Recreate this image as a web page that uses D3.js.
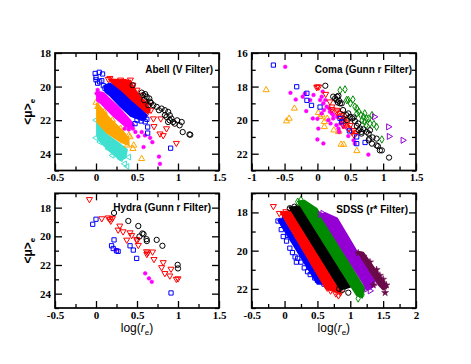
<!DOCTYPE html>
<html>
<head>
<meta charset="utf-8">
<script src="https://cdn.jsdelivr.net/npm/d3@7"></script>
<style>
  body { margin: 0; background: #fff; }
  svg { display: block; }
</style>
</head>
<body>
<div id="chart"></div>
<script>
// ---- Abell (V Filter) ----
const abellBlack = [[0.447,19.92],[0.557,20.36],[0.577,20.51],[0.618,20.61],[0.585,20.81],[0.65,20.71],[0.67,20.97],[0.638,21.11],[0.70,21.11],[0.74,21.21],[0.768,21.41],[0.80,21.31],[0.84,21.41],[0.88,21.51],[0.90,21.71],[0.86,21.81],[0.92,21.91],[0.94,22.11],[0.90,22.01],[0.96,22.21],[0.99,22.01],[1.045,22.11],[1.02,22.31],[1.057,22.71],[1.14,22.85],[1.15,22.87],[0.84,21.71],[0.88,22.11],[0.60,20.45],[0.66,20.90]];
const abellRed = [[0.15,19.56],[0.17,19.5],[0.333,19.68],[0.386,19.72],[0.42,19.6],[0.45,19.9],[0.5,20.2],[0.55,20.5],[0.6,20.9],[0.65,21.1],[0.67,21.4],[0.62,21.6],[0.70,21.91],[0.707,22.37],[0.79,21.91],[0.86,22.5],[0.78,22.81],[0.82,22.91],[0.98,23.37],[0.58,21.5],[0.25,19.8],[0.30,19.6]];
const abellBlue = [[-0.01,19.22],[0.04,19.15],[0.08,19.25],[0.0,19.45],[0.0,19.6],[0.045,19.72],[0.07,19.65],[0.02,19.8],[0.11,20.1],[0.09,19.95],[0.14,20.0],[0.62,21.95],[0.60,22.1],[0.58,21.85],[0.476,22.21],[0.63,22.41],[0.63,22.77],[0.91,23.67],[0.50,22.0],[0.55,22.05]];
const abellMagenta = [[0.008,20.41],[0.02,20.2],[0.05,20.6],[0.25,21.8],[0.35,22.5],[0.40,22.55],[0.45,22.5],[0.516,22.97],[0.557,22.71],[0.597,22.91],[0.66,23.05],[0.687,23.31],[0.58,23.6],[0.768,24.17],[0.78,24.6],[0.48,22.7]];
const abellOrange = [[0.0,20.95],[0.02,21.2],[0.10,21.5],[0.20,22.0],[0.30,22.5],[0.40,22.9],[0.415,23.0],[0.46,23.5],[0.45,23.7],[0.557,24.3],[0.38,23.5]];
const abellTurq = [[0.0,22.0],[0.0,23.05],[0.05,23.3],[0.15,23.7],[0.27,23.6],[0.35,24.6],[0.38,24.75],[0.30,24.3],[0.40,24.2],[0.20,24.1]];
// dense cores, outlines
const abellRedCore = [[0.16,19.55],[0.27,19.6],[0.41,19.65],[0.47,20.1],[0.53,20.6],[0.62,21.0],[0.66,21.4],[0.63,21.6],[0.54,21.3],[0.42,20.8],[0.29,20.2],[0.19,19.75]];
const abellBlueCore = [[0.1,19.95],[0.17,19.8],[0.29,20.25],[0.42,20.85],[0.54,21.35],[0.62,21.7],[0.6,21.95],[0.55,22.0],[0.42,21.75],[0.29,21.15],[0.17,20.55],[0.11,20.3]];
const abellMagentaCore = [[0.01,20.3],[0.08,20.35],[0.11,20.45],[0.17,20.75],[0.29,21.3],[0.4,21.9],[0.47,22.3],[0.43,22.5],[0.35,22.35],[0.2,21.7],[0.06,21.0],[0.01,20.85]];
const abellOrangeCore = [[0.01,21.0],[0.06,21.25],[0.17,21.9],[0.32,22.6],[0.4,23.1],[0.4,23.5],[0.3,23.3],[0.13,22.75],[0.01,22.1]];
const abellTurqCore = [[0.01,22.15],[0.13,22.85],[0.3,23.45],[0.38,23.75],[0.36,24.25],[0.3,24.4],[0.2,24.0],[0.05,23.3],[0.01,22.95]];

// ---- Coma (Gunn r Filter) ----
const comaBlue = [[-0.67,16.72],[-0.315,18.01],[-0.16,18.4],[-0.16,18.82],[-0.09,19.12],[0.04,19.22],[0.344,19.9],[0.37,20.1],[0.486,20.64],[0.598,21.0],[0.598,21.4],[0.725,21.33]];
const comaMagenta = [[-0.49,16.82],[-0.41,18.37],[-0.33,18.77],[-0.224,18.6],[-0.19,18.41],[-0.11,18.8],[-0.06,18.5],[-0.17,19.46],[-0.07,19.9],[0.0,19.92],[0.014,20.5],[0.0,21.15],[0.09,21.39],[0.065,18.6],[0.08,18.3],[0.12,18.8],[0.04,18.8],[0.09,19.0],[0.065,19.6],[0.166,20.0],[0.24,19.9],[0.29,20.3],[0.14,19.2],[0.22,19.6],[0.19,19.5],[0.24,19.7],[0.32,20.5],[0.33,20.7],[0.47,20.95],[0.55,21.2],[0.57,21.4],[0.775,22.05],[0.10,19.4],[0.18,19.3],[0.30,19.8],[0.35,20.2],[0.40,20.4],[0.20,20.2]];
const comaOrange = [[-0.78,18.2],[-0.35,19.3],[-0.43,19.9],[-0.47,20.06],[0.014,19.56],[0.04,19.8],[0.105,20.1],[0.105,20.4],[0.07,19.7],[0.25,20.6],[0.33,20.66],[0.36,21.45],[0.40,21.45],[0.60,21.83],[0.32,20.7],[0.15,19.9]];
const comaRed = [[0.0,18.0],[-0.01,18.05],[0.02,18.02],[0.126,18.45],[0.19,18.9],[0.22,19.2],[0.22,19.36],[0.29,19.5],[0.30,19.4],[0.344,19.8],[0.34,19.6],[0.38,19.7],[0.39,20.0],[0.39,20.3],[0.42,19.9],[0.445,20.4],[0.46,20.1],[0.50,20.3],[0.52,20.7],[0.55,20.6],[0.58,20.8],[0.36,19.9],[0.41,20.15],[0.48,20.5],[0.56,20.9]];
const comaBlack = [[0.12,17.95],[0.24,18.6],[0.27,18.7],[0.30,18.6],[0.32,18.55],[0.29,18.8],[0.33,18.85],[0.344,19.0],[0.31,18.95],[0.37,19.0],[0.39,19.4],[0.44,19.7],[0.47,19.6],[0.50,19.8],[0.445,20.0],[0.53,19.9],[0.55,19.84],[0.57,20.05],[0.62,20.2],[0.60,20.35],[0.65,20.5],[0.63,20.6],[0.67,20.7],[0.67,20.8],[0.70,20.55],[0.75,20.7],[0.80,20.6],[0.78,20.8],[0.79,21.1],[0.84,21.03],[0.90,21.1],[0.78,21.2],[0.83,21.4],[0.90,21.5],[0.92,21.55],[0.95,21.8],[0.98,21.8],[1.09,22.23]];
const comaGreen = [[0.344,18.22],[0.42,18.17],[0.445,18.8],[0.47,18.8],[0.54,18.77],[0.50,19.0],[0.57,19.2],[0.60,19.3],[0.63,19.5],[0.60,19.6],[0.66,19.7],[0.70,19.8],[0.72,19.6],[0.75,19.9],[0.68,20.0],[0.72,20.1],[0.80,20.2],[0.78,19.9],[0.83,19.7],[0.86,20.24],[0.90,20.4],[0.74,20.3],[0.98,21.15]];
const comaViolet = [[0.866,19.8],[1.08,20.4],[1.09,20.97],[1.30,21.2]];

// ---- Hydra (Gunn r Filter) ----
const hydraRed = [[-0.08,17.42],[0.07,18.76],[0.15,18.7],[0.17,18.8],[0.18,18.93],[0.20,18.75],[0.29,19.27],[0.27,19.55],[0.33,19.67],[0.415,19.74],[0.435,19.93],[0.375,20.25],[0.496,20.2],[0.50,20.3],[0.516,20.62],[0.617,21.06],[0.63,21.15],[0.69,21.08],[0.62,21.25],[0.707,21.6],[0.82,21.82],[0.80,22.17],[0.84,22.58],[0.90,22.75],[0.915,22.28],[0.98,22.98],[1.0,22.95]];
const hydraBlack = [[0.22,18.37],[0.394,18.93],[0.516,19.28],[0.565,19.8],[0.58,19.85],[0.53,20.01],[0.617,20.2],[0.62,20.33],[0.74,20.25],[0.81,20.66],[0.996,21.99],[1.0,22.24]];
const hydraBlue = [[-0.04,19.16],[0.0,18.81],[0.22,20.25],[0.19,20.66],[0.21,20.85],[0.25,21.01],[0.27,21.05],[0.415,20.66],[0.455,20.96],[0.496,21.54],[0.915,23.95]];
const hydraMagenta = [[0.24,20.94],[0.60,22.58],[0.646,22.93],[0.68,23.17]];

// ---- SDSS (r* Filter) ----
const sdssBlue = [[-0.10,18.45],[-0.05,18.42],[-0.02,18.6],[-0.05,18.9],[-0.02,19.26],[0.03,19.5],[0.08,19.87],[0.12,20.1],[0.16,20.33],[0.20,20.4],[0.25,20.6],[0.30,20.9],[0.35,21.1],[0.39,21.25],[0.46,21.43],[0.50,21.55],[0.55,21.6],[0.60,21.75],[0.64,21.78],[0.0,18.3],[0.05,19.2],[0.18,20.6]];
const sdssRed = [[-0.17,17.68],[-0.08,18.04],[0.02,17.95],[0.70,22.1],[0.78,22.25],[0.82,22.35],[0.85,22.2],[0.65,21.95],[0.75,21.9]];
const sdssBlack = [[0.08,17.78],[0.15,17.7],[0.20,17.75],[0.83,22.0],[0.92,21.86],[0.97,22.2],[0.88,22.05]];
const sdssGreen = [[0.20,17.44],[0.25,17.35],[0.30,17.6],[0.34,17.87],[0.42,17.9],[0.46,17.95],[1.05,21.9],[1.10,22.0],[1.15,22.12],[1.18,22.3],[1.12,22.5],[1.20,21.95]];
const sdssPurple = [[0.54,18.1],[0.58,18.05],[0.62,18.3],[0.70,18.6],[0.85,19.1],[1.30,22.1],[1.35,21.8],[1.27,21.9],[1.25,22.0]];
const sdssMaroon = [[1.12,20.13],[1.20,20.3],[1.30,20.6],[1.40,21.0],[1.45,21.3],[1.50,21.5],[1.52,21.86],[1.53,22.2],[1.48,21.7],[1.42,21.5],[1.35,21.8],[1.55,21.8]];
const sdssBlueCore = [[-0.1,18.4],[-0.02,18.35],[0.58,21.75],[0.5,21.75]];
const sdssRedCore = [[-0.06,18.0],[0.1,17.9],[0.86,22.25],[0.63,22.0]];
const sdssBlackCore = [[0.07,17.72],[0.26,17.7],[1.0,21.9],[0.85,22.05]];
const sdssGreenCore = [[0.2,17.42],[0.3,17.37],[0.49,17.8],[1.22,22.0],[1.18,22.45],[1.1,22.35]];
const sdssPurpleCore = [[0.54,18.1],[0.62,18.03],[0.8,18.3],[1.37,21.6],[1.32,21.95],[1.26,22.05]];
const sdssMaroonCore = [[1.11,20.05],[1.2,20.1],[1.57,21.9],[1.5,22.05],[1.43,21.8]];

// Tick values
const xTicksA = [-0.5, 0, 0.5, 1, 1.5];
const xTicksComa = [-1, -0.5, 0, 0.5, 1, 1.5];
const xTicksSdss = [-0.5, 0, 0.5, 1, 1.5, 2];

const C = {
    black: "#000000", red: "#ff0000", blue: "#0000ff", magenta: "#ff00ff",
    orange: "#ffa500", turq: "#40e0d0", green: "#008b00", violet: "#9400d3", maroon: "#6b0a4a"
};

const svg = d3.select("#chart")
    .append("svg")
    .attr("width", 471)
    .attr("height", 364);

// symbol shapes: d3 type + rotation
const shapes = {
    circle: { type: d3.symbolCircle, size: 22, rot: 0 },
    square: { type: d3.symbolSquare, size: 18, rot: 0 },
    triDown: { type: d3.symbolTriangle, size: 16, rot: 180 },
    triUp: { type: d3.symbolTriangle, size: 16, rot: 0 },
    triLeft: { type: d3.symbolTriangle, size: 14, rot: -90 },
    triRight: { type: d3.symbolTriangle, size: 16, rot: 90 },
    diamond: { type: d3.symbolDiamond, size: 16, rot: 0 },
    dot: { type: d3.symbolCircle, size: 11, rot: 0 },
    star: { type: d3.symbolStar, size: 16, rot: 0 }
};

let clipId = 0;

const drawPanel = (p) => {
    const x = d3.scaleLinear().domain(p.xDomain).range([p.left, p.right]);
    const y = d3.scaleLinear().domain(p.yDomain).range([p.top, p.bottom]);

    const id = "clip" + (clipId++);
    svg.append("clipPath").attr("id", id)
        .append("rect")
        .attr("x", p.left).attr("y", p.top)
        .attr("width", p.right - p.left).attr("height", p.bottom - p.top);

    const g = svg.append("g").attr("clip-path", `url(#${id})`);

    const line = d3.line().x(d => x(d[0])).y(d => y(d[1])).curve(d3.curveLinearClosed);

    // each layer: optional dense core, then markers
    p.layers.forEach(l => {
        if (l.core) {
            g.append("path").datum(l.core)
                .attr("d", line)
                .attr("fill", l.color)
                .attr("stroke", l.color)
                .attr("stroke-width", 1.5)
                .attr("stroke-linejoin", "round");
        }
        const sh = shapes[l.shape];
        const filled = l.shape === "dot" || l.shape === "star";
        g.append("g").selectAll("path")
            .data(l.pts)
            .join("path")
            .attr("transform", d => `translate(${x(d[0])},${y(d[1])}) rotate(${sh.rot})`)
            .attr("d", d3.symbol().type(sh.type).size(sh.size))
            .attr("fill", filled ? l.color : "none")
            .attr("stroke", l.color)
            .attr("stroke-width", filled ? 0.5 : 1);
    });

    // ticks: major and minor on all four sides, pointing in
    const fmt = d => String(d);
    const ax = svg.append("g");
    const addAxis = (axis, tr) => ax.append("g").attr("transform", tr).call(axis);

    const xMinor = d3.range(p.xDomain[0], p.xDomain[1] + 1e-9, 0.25).filter(v => !p.xTicks.some(t => Math.abs(t - v) < 1e-9));
    const yMinor = d3.range(Math.ceil(p.yDomain[0]), p.yDomain[1] + 1e-9, 1).filter(v => !p.yTicks.includes(v));

    addAxis(d3.axisBottom(x).tickValues(p.xTicks).tickSize(-7).tickPadding(3).tickFormat(fmt), `translate(0,${p.bottom})`)
        .attr("class", "labels");
    addAxis(d3.axisBottom(x).tickValues(xMinor).tickSize(-4).tickFormat(""), `translate(0,${p.bottom})`);
    addAxis(d3.axisTop(x).tickValues(p.xTicks).tickSize(-7).tickFormat(""), `translate(0,${p.top})`);
    addAxis(d3.axisTop(x).tickValues(xMinor).tickSize(-4).tickFormat(""), `translate(0,${p.top})`);
    addAxis(d3.axisLeft(y).tickValues(p.yTicks).tickSize(-7).tickPadding(4).tickFormat(fmt), `translate(${p.left},0)`)
        .attr("class", "labels");
    addAxis(d3.axisLeft(y).tickValues(yMinor).tickSize(-4).tickFormat(""), `translate(${p.left},0)`);
    addAxis(d3.axisRight(y).tickValues(p.yTicks).tickSize(-7).tickFormat(""), `translate(${p.right},0)`);
    addAxis(d3.axisRight(y).tickValues(yMinor).tickSize(-4).tickFormat(""), `translate(${p.right},0)`);

    ax.selectAll(".domain").remove();
    ax.selectAll(".tick line").attr("stroke", "#000").attr("stroke-width", 1.3);
    ax.selectAll(".labels text")
        .attr("font-family", "'Liberation Serif', 'Times New Roman', serif")
        .attr("font-weight", "bold")
        .attr("font-size", 11)
        .attr("fill", "#000");

    // frame
    svg.append("rect")
        .attr("x", p.left).attr("y", p.top)
        .attr("width", p.right - p.left).attr("height", p.bottom - p.top)
        .attr("fill", "none")
        .attr("stroke", "#000")
        .attr("stroke-width", 1.7);

    // panel title
    svg.append("text")
        .attr("x", p.titleX)
        .attr("y", p.titleY)
        .attr("text-anchor", "end")
        .attr("font-family", "'Liberation Sans', Arial, sans-serif")
        .attr("font-weight", "bold")
        .attr("font-size", 10)
        .text(p.title);

    // y label (left column)
    if (p.yLabel) {
        const t = svg.append("text")
            .attr("transform", `translate(${p.left - 23},${(p.top + p.bottom) / 2}) rotate(-90)`)
            .attr("text-anchor", "middle")
            .attr("font-family", "'Liberation Sans', Arial, sans-serif")
            .attr("font-weight", "bold")
            .attr("font-size", 12);
        t.append("tspan").text("<\u03bc>");
        t.append("tspan").attr("font-size", 8).attr("dy", 3).text("e");
    }

    // x label (bottom row)
    if (p.xLabel) {
        const t = svg.append("text")
            .attr("x", (p.left + p.right) / 2)
            .attr("y", p.bottom + 24)
            .attr("text-anchor", "middle")
            .attr("font-family", "'Liberation Sans', Arial, sans-serif")
            .attr("font-size", 12);
        t.append("tspan").text("log(");
        t.append("tspan").attr("font-style", "italic").text("r");
        t.append("tspan").attr("font-size", 8).attr("dy", 3).text("e");
        t.append("tspan").attr("dy", -3).text(")");
    }
};

drawPanel({
    left: 55, right: 219, top: 53, bottom: 170.5,
    xDomain: [-0.5, 1.5], yDomain: [18, 25],
    xTicks: xTicksA, yTicks: [18, 20, 22, 24],
    title: "Abell (V Filter)", titleX: 213, titleY: 73, yLabel: true,
    layers: [
        { pts: abellTurq, core: abellTurqCore, color: C.turq, shape: "triLeft" },
        { pts: abellOrange, core: abellOrangeCore, color: C.orange, shape: "triUp" },
        { pts: abellMagenta, core: abellMagentaCore, color: C.magenta, shape: "dot" },
        { pts: abellRed, core: abellRedCore, color: C.red, shape: "triDown" },
        { pts: abellBlue, core: abellBlueCore, color: C.blue, shape: "square" },
        { pts: abellBlack, color: C.black, shape: "circle" }
    ]
});

drawPanel({
    left: 251.7, right: 416, top: 53, bottom: 170.5,
    xDomain: [-1, 1.5], yDomain: [16, 23],
    xTicks: xTicksComa, yTicks: [16, 18, 20, 22],
    title: "Coma (Gunn r Filter)", titleX: 412, titleY: 73,
    layers: [
        { pts: comaOrange, color: C.orange, shape: "triUp" },
        { pts: comaMagenta, color: C.magenta, shape: "dot" },
        { pts: comaRed, color: C.red, shape: "triDown" },
        { pts: comaBlue, color: C.blue, shape: "square" },
        { pts: comaGreen, color: C.green, shape: "diamond" },
        { pts: comaBlack, color: C.black, shape: "circle" },
        { pts: comaViolet, color: C.violet, shape: "triRight" }
    ]
});

drawPanel({
    left: 55, right: 219, top: 193.3, bottom: 308,
    xDomain: [-0.5, 1.5], yDomain: [17, 25],
    xTicks: xTicksA, yTicks: [18, 20, 22, 24],
    title: "Hydra (Gunn r Filter)", titleX: 211, titleY: 211, yLabel: true, xLabel: true,
    layers: [
        { pts: hydraMagenta, color: C.magenta, shape: "dot" },
        { pts: hydraRed, color: C.red, shape: "triDown" },
        { pts: hydraBlue, color: C.blue, shape: "square" },
        { pts: hydraBlack, color: C.black, shape: "circle" }
    ]
});

drawPanel({
    left: 251.7, right: 416, top: 193.3, bottom: 308,
    xDomain: [-0.5, 2], yDomain: [17, 23],
    xTicks: xTicksSdss, yTicks: [18, 20, 22],
    title: "SDSS (r* Filter)", titleX: 408, titleY: 213, xLabel: true,
    layers: [
        { pts: sdssBlue, core: sdssBlueCore, color: C.blue, shape: "square" },
        { pts: sdssRed, core: sdssRedCore, color: C.red, shape: "triDown" },
        { pts: sdssBlack, core: sdssBlackCore, color: C.black, shape: "circle" },
        { pts: sdssGreen, core: sdssGreenCore, color: C.green, shape: "diamond" },
        { pts: sdssPurple, core: sdssPurpleCore, color: C.violet, shape: "triRight" },
        { pts: sdssMaroon, core: sdssMaroonCore, color: C.maroon, shape: "star" }
    ]
});
</script>
</body>
</html>
